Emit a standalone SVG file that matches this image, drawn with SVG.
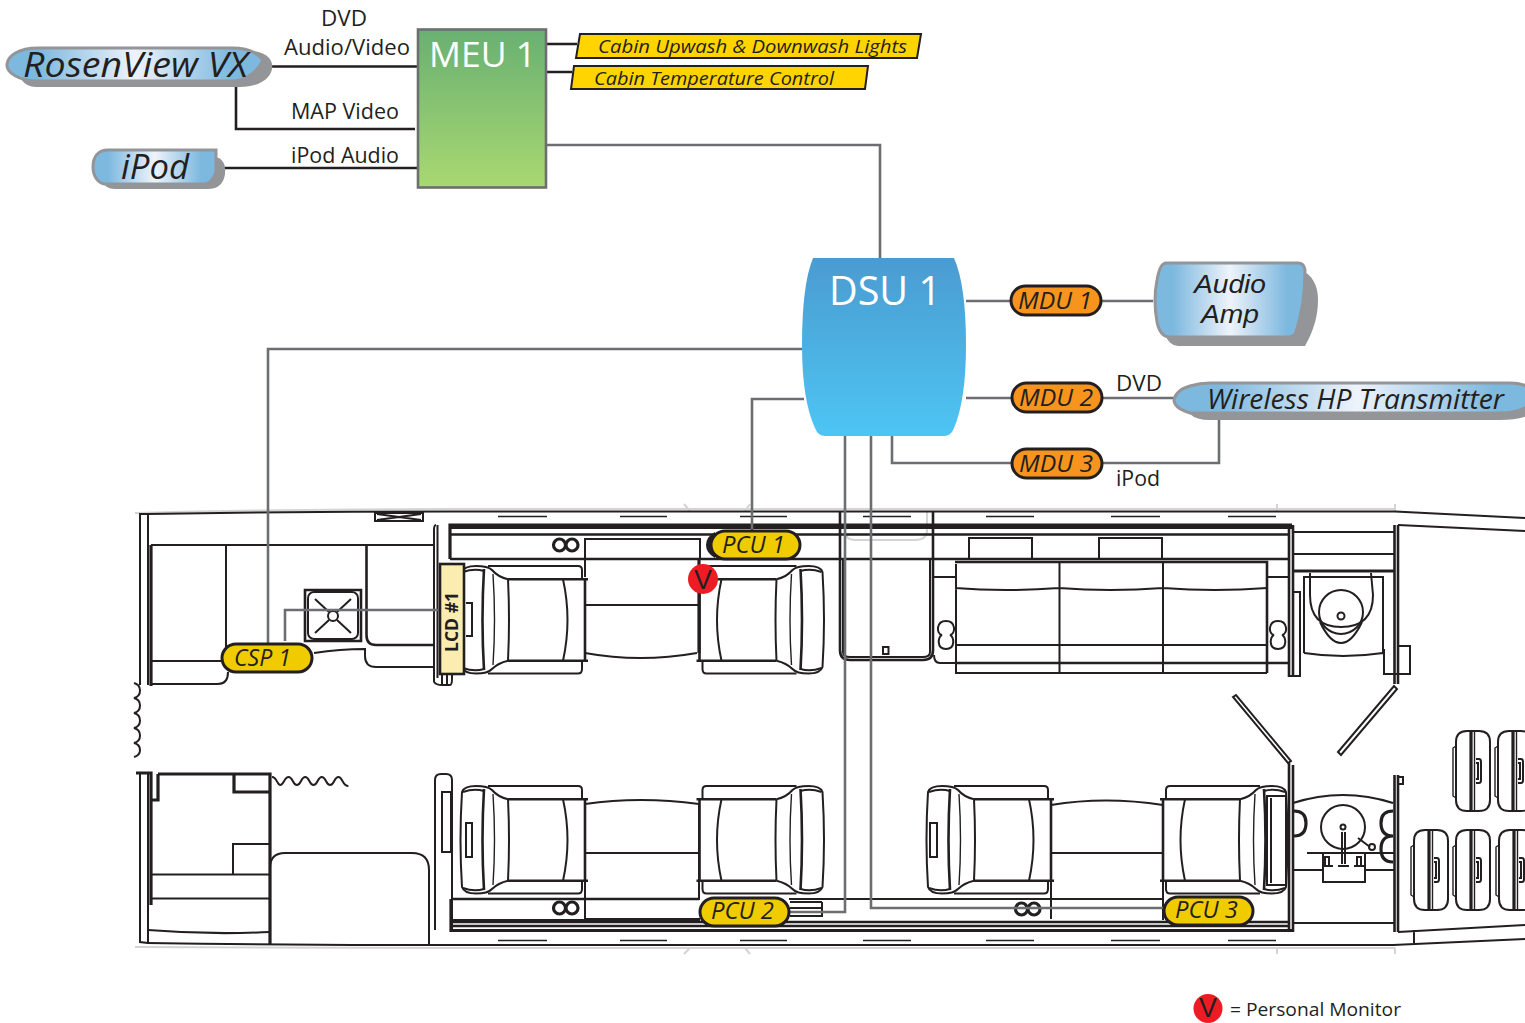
<svg xmlns="http://www.w3.org/2000/svg" xmlns:xlink="http://www.w3.org/1999/xlink" width="1525" height="1023" viewBox="0 0 1525 1023">
<style>
.l{fill:none;stroke:#231f20;stroke-width:2}
.n{fill:none;stroke:#231f20;stroke-width:1.4}
.t{fill:none;stroke:#231f20;stroke-width:3.2}
.s{fill:none;stroke:#d4d4d4;stroke-width:2}
.g{fill:none;stroke:#6d6e71;stroke-width:2.6}
.k{fill:none;stroke:#231f20;stroke-width:2.6}
text{font-family:"Open Sans","Noto Sans","Liberation Sans",sans-serif;fill:#231f20}
.i{font-style:italic}
.lb{font-size:21px}
.sh{fill:#939598}
.fc{stroke:#939598;stroke-width:3;fill:url(#bl)}
.pc{fill:#f0cb00;stroke:#231f20;stroke-width:3}
.md{fill:#f7941d;stroke:#231f20;stroke-width:3}
.yw{fill:#ffd400;stroke:#231f20;stroke-width:2}
.vv{font-family:"Liberation Sans",sans-serif;font-size:27px}
.aa{font-family:"Liberation Sans",sans-serif;font-size:26px}
</style>
<defs>
<linearGradient id="bl" x1="0" x2="1" y1="0" y2="0"><stop offset="0.12" stop-color="#7db8df"/><stop offset="0.5" stop-color="#eef3fa"/><stop offset="0.88" stop-color="#7db8df"/></linearGradient>
<linearGradient id="gr" x1="0" x2="0" y1="0" y2="1"><stop offset="0" stop-color="#69b072"/><stop offset="1" stop-color="#a9d871"/></linearGradient>
<linearGradient id="du" x1="0" x2="0" y1="0" y2="1"><stop offset="0" stop-color="#4b9bd0"/><stop offset="1" stop-color="#4dc5f4"/></linearGradient>
<g id="seat">
<path class="l" d="M28 1H118Q122 1 122 5V13M28 108.500H118Q122 108.500 122 104V96"/>
<path class="k" d="M128 14.300H48M128 95.700H48M125 15V95"/>
<path class="l" d="M48 14.300Q38 12 32 5Q28 1 16 1Q4 1 2 7Q-1 55 2 102Q4 108.500 16 108.500Q28 108.500 32 104Q38 98 48 95.700"/>
<path class="l" d="M48 14.300Q50 55 48 95.700M103 14.300Q112 55 103 95.700"/>
<path class="n" d="M33 9Q36 55 33 100"/>
<path class="k" d="M24 4Q21 55 24 105"/>
<path class="l" d="M3 7Q14 3 24 6M3 103Q14 107 24 104"/>
</g>
<g id="lug">
<path class="l" d="M12 0H24Q35 0 35 11V69Q35 80 24 80H12Q1 80 1 69V11Q1 0 12 0Z"/>
<path class="n" d="M1 15L-2 17V65L1 67"/>
<path class="t" d="M16 0V80"/><path class="n" d="M19.500 0V80"/>
<path class="l" d="M21 28H24Q26 28 26 31V49Q26 52 24 52H21M21 32H23V48H21"/>
</g>
<g id="eight"><path class="l" d="M0 0C-10 0 -10 13 -4 14C-8 15 -10 28 0 28C10 28 8 15 4 14C10 13 10 0 0 0Z"/></g>
</defs>
<rect width="1525" height="1023" fill="#fff"/>

<g id="cabin">
<path class="s" d="M135 513Q300 509 450 509H1395M135 947Q300 948 450 948H1395M690 511L684 504M745 511L750 504M690 948L684 954M745 948L750 954M1277 504V511M1395 504V511M1277 948V954M1395 948V954M845 512V530Q845 540 855 540H915Q927 540 927 530V512"/>
<path class="l" d="M147 514Q300 511.500 450 511.500H1395L1525 518M147 943Q300 945 450 945H1393L1525 939M1398 525L1525 531M1398 932L1525 925M1414 930V943"/>
<rect class="l" x="375" y="513" width="48" height="8"/><path class="l" d="M377 514L421 520M421 514L377 520"/>
<path class="n" d="M498 516.500H547M620 516.500H667M740 516.500H787M863 516.500H911M986 516.500H1034M1111 516.500H1160M1228 516.500H1276M498 940.500H547M620 940.500H667M740 940.500H787M863 940.500H911M986 940.500H1034M1111 940.500H1160M1228 940.500H1276"/>

<path class="l" d="M148 514H140V685M148 514V685M140 774V942L148 943M148 774V943"/>
<path class="t" d="M151 545V686"/>
<path class="l" d="M151 545H434M226 545V660M151 661H222M151 684H218Q228 684 228 672"/>
<path class="k" d="M366.500 545V635Q366.500 645 376 645H434"/>
<path class="l" d="M314 653Q340 649 365 649V656Q365 667 376 667H434"/>
<path class="k" d="M305 590H361V641H305Z"/>
<rect class="l" x="308" y="592" width="50" height="47" rx="6"/>
<circle class="l" cx="333" cy="616" r="5"/>
<path class="l" d="M315 599L329 612M351 599L337 612M315 633L329 620M351 633L337 620"/>
<path class="l" d="M134 683c8 2 8 13 0 15c8 2 8 13 0 15c8 2 8 13 0 15c8 2 8 13 0 15c8 2 8 12 0 14"/>
<path class="l" d="M272 777c5 0 5 8 8.300 8s4 -8 8.300 -8s4 8 8.300 8s4 -8 8.300 -8s4 8 8.300 8s4 -8 8.300 -8s4 8 8.300 8s4 -8 8.300 -8s4 9 10 9"/>

<path class="t" d="M136 773H151V905M158 774H270V945M158 774V800H151M234 774V792H270"/>
<path class="l" d="M233 874V844H270M151 874.500H270M151 898.500H270M148 930Q210 935 270 932M270 868Q270 853 285 853H412Q429 853 429 870V945"/>

<path class="l" d="M434 682V530Q434 525 436 525M437.500 525V678M434 682Q436 685 442 685H450Q452 685 452 678V672M442 674V684M447 674V684"/>
<path class="l" d="M435 930V780Q435 774 441 774H446Q452 774 452 780V930M442 792H451V852H442Z"/>
<path class="t" d="M450 559V525H1292M450 527.500H1292M450 930.500H1292M451 899V932"/>
<path class="k" d="M450 534.500H1290M450 559H1290M451 899H699M451 922H1290M451 926H1290"/>
<path class="l" d="M789 899H1163M451 920H700M790 908H822M790 916H822M822 902V916H790M790 902H822"/>

<use href="#seat" transform="translate(460 565)"/>
<use href="#seat" transform="translate(824.500 565) scale(-1 1)"/>
<use href="#seat" transform="translate(460 785)"/>
<use href="#seat" transform="translate(824.500 785) scale(-1 1)"/>
<use href="#seat" transform="translate(926 785)"/>
<use href="#seat" transform="translate(1288 785) scale(-1 1)"/>
<path class="l" d="M466 823H472V857H466ZM930 823H937V857H930ZM1267 796H1286V885H1267ZM1271 798V883M466 603H472V636H466"/>

<path class="l" d="M585 577V539H700V559M585 605H699M585 653Q640 663 697 653M585 804Q640 796 699 804M585 853H699M585 805V900M699 805V900M585 900V919H700M1051 805Q1105 796 1163 805M1051 853H1163M1051 805V900M1163 805V920M1051 919V899"/>
<path class="t" d="M699 560V653"/>
<g id="hooks" class="t"><circle cx="559.500" cy="545" r="6"/><circle cx="572" cy="545" r="6"/><circle cx="559.500" cy="908" r="6"/><circle cx="572" cy="908" r="6"/><circle cx="1021.500" cy="909" r="6"/><circle cx="1034" cy="909" r="6"/></g>

<path class="k" d="M840 512V650Q840 660 850 660H923Q933 660 933 650V512"/>
<path class="l" d="M843 559V652Q843 657 850 657H923Q930 657 930 652V559"/>
<rect class="l" x="883" y="647" width="5.500" height="7"/>
<path class="l" d="M934 577H955M934 655Q934 663 940 663H955M969 559V538H1032V559M1099 559V538H1162V559"/>
<path class="k" d="M955 562H1267V673"/>
<path class="l" d="M956 564V673H1267M1267 577H1288M1059.500 562V673M1163 562V673M955 645H1267M955 588Q1005 592 1059 588Q1110 592 1163 588Q1215 592 1267 588"/>
<path class="k" d="M955 663H1288"/>
<use href="#eight" transform="translate(946 621)"/>
<use href="#eight" transform="translate(1278 621)"/>

<path class="k" d="M1289 525V677M1293 525V677M1394.500 525V684M1398 525V684"/>
<path class="l" d="M1289 676H1300V592H1293M1293 532H1394M1293 554H1394M1304 653V577H1383V653"/>
<path class="t" d="M1293 571H1394"/>
<path class="l" d="M1310 573V595Q1310 627 1341 627Q1373 627 1373 595L1371 573M1320 622Q1330 643 1341 643Q1352 643 1362 622M1304 653Q1343 659 1383 653M1384 649V674H1410V646H1398"/>
<circle class="l" cx="1341" cy="612" r="22"/><circle class="l" cx="1341" cy="616" r="3.500"/>
<path class="l" d="M1233 697L1236 695L1291 761L1288 763ZM1338 752L1341 755L1397 689L1394 686Z"/>
<path class="k" d="M1289 763V932M1293 765V932M1394.500 775V932M1398 775V932"/><path class="l" d="M1398 777H1403V784H1398"/>
<path class="l" d="M1293 803Q1343 787 1393 803M1293 870H1323M1365 870H1394M1307 853H1394M1323 853V882H1365V853M1293 923H1394M1358 838L1370 847"/>
<circle class="l" cx="1343" cy="827" r="22"/><circle class="l" cx="1343" cy="827" r="2.500"/><circle class="l" cx="1372" cy="847" r="3"/>
<path class="l" d="M1342 832V864M1345 832V864M1322 866H1333M1338 866H1349M1354 866H1365M1325 866V857H1329V866M1357 866V857H1361V866"/>
<path class="t" d="M1294 811Q1306 811 1306 823Q1306 836 1294 836M1393 811Q1381 811 1381 823Q1381 836 1393 836Q1381 836 1381 849Q1381 862 1393 862"/>

<use href="#lug" transform="translate(1455 731)"/>
<use href="#lug" transform="translate(1497 731)"/>
<use href="#lug" transform="translate(1413 830)"/>
<use href="#lug" transform="translate(1455 830)"/>
<use href="#lug" transform="translate(1498 830)"/>
</g>

<g id="connectors">
<path class="g" d="M546 145H880V258M802 349H268V644M285 641V610H440M804 399H752V530M845 436V912H790M871 436V908H1165M966 301H1011M1101 301H1153M966 398H1012M1102 398H1175M892 436V463H1012M1102 463H1219V414"/>
<path class="k" d="M262 66.500H417M236 85V129H415M216 168H417M547 44H577M547 72H572"/>
</g>

<g id="meu"><rect x="418" y="29.500" width="128" height="158" fill="url(#gr)" stroke="#6d6e71" stroke-width="2.600"/><text x="429" y="67" font-size="35" style="fill:#fff" textLength="107" lengthAdjust="spacingAndGlyphs">MEU 1</text></g>

<g id="dsu"><path d="M813 258H954Q966 285 966 345Q966 400 954 428Q951 436 944 436H825Q818 436 815 428Q802 400 802 345Q802 285 813 258Z" fill="url(#du)"/><text x="829" y="305" font-size="41" style="fill:#fff" textLength="112" lengthAdjust="spacingAndGlyphs">DSU 1</text></g>

<g id="rosenview"><path class="sh" d="M36 87H240C264 87 274 74 272 64C270 54 258 50 240 50H20C12 64 18 87 36 87Z"/><path class="fc" d="M38 48H232C252 48 260 56 263 60C258 72 245 81 232 81H38C18 81 6 72 7 64C8 56 18 48 38 48Z"/><text class="i" x="23" y="77" font-size="35" textLength="225" lengthAdjust="spacingAndGlyphs">RosenView VX</text></g>

<g id="ipod"><path class="sh" d="M115 189H208C222 189 226 178 225 168C224 158 216 156 208 156H100C96 176 102 189 115 189Z"/><path class="fc" d="M108 150H216V172Q212 184 204 184H106C98 184 93 176 93 167C93 157 98 150 108 150Z"/><text class="i" x="121" y="179" font-size="35" textLength="68" lengthAdjust="spacingAndGlyphs">iPod</text></g>

<g id="audio-amp"><path class="sh" d="M1178 346H1305C1314 330 1318 315 1318 300C1318 285 1312 274 1300 270H1165V335Q1170 346 1178 346Z"/><path class="fc" d="M1166 263H1298Q1304 263 1305 270Q1305 305 1296 332Q1294 337 1288 337H1170Q1160 337 1157 322Q1153 300 1157 280Q1160 263 1166 263Z"/><text class="i aa" x="1230" y="293" text-anchor="middle" textLength="72" lengthAdjust="spacingAndGlyphs">Audio</text><text class="i aa" x="1230" y="323" text-anchor="middle" textLength="58" lengthAdjust="spacingAndGlyphs">Amp</text></g>

<g id="wireless"><path class="sh" d="M1190 414Q1196 420 1210 420H1500Q1525 420 1540 410V395H1186Z"/><path class="fc" d="M1210 383H1510Q1530 383 1540 397Q1525 413 1500 413H1190Q1174 408 1174 400Q1176 390 1190 386Q1200 383 1210 383Z"/><text class="i" x="1207" y="409" font-size="27" textLength="297" lengthAdjust="spacingAndGlyphs">Wireless HP Transmitter</text></g>

<g id="cabin-lights"><path class="yw" d="M580 34H921L917 58H576Z"/><text class="i" x="598" y="53" font-size="19" textLength="309" lengthAdjust="spacingAndGlyphs">Cabin Upwash &amp; Downwash Lights</text></g>
<g id="cabin-temp"><path class="yw" d="M574 66H868L865 89H571Z"/><text class="i" x="594" y="85" font-size="19" textLength="240" lengthAdjust="spacingAndGlyphs">Cabin Temperature Control</text></g>

<g id="mdu1"><rect class="md" x="1011" y="286" width="90" height="29" rx="14.500"/><text class="i" x="1018" y="309" font-size="23" textLength="74" lengthAdjust="spacingAndGlyphs">MDU 1</text></g>
<g id="mdu2"><rect class="md" x="1012" y="383" width="90" height="29" rx="14.500"/><text class="i" x="1019" y="406" font-size="23" textLength="74" lengthAdjust="spacingAndGlyphs">MDU 2</text></g>
<g id="mdu3"><rect class="md" x="1012" y="449" width="90" height="29" rx="14.500"/><text class="i" x="1019" y="472" font-size="23" textLength="74" lengthAdjust="spacingAndGlyphs">MDU 3</text></g>

<g id="pcu1"><path d="M715 532Q706 537 706 545Q706 553 715 558Z" fill="#231f20"/><rect class="pc" x="711" y="531" width="89" height="28" rx="14"/><text class="i" x="722" y="553" font-size="23" textLength="63" lengthAdjust="spacingAndGlyphs">PCU 1</text></g>
<g id="pcu2"><rect class="pc" x="700" y="898" width="89" height="28" rx="14"/><text class="i" x="711" y="919" font-size="23" textLength="63" lengthAdjust="spacingAndGlyphs">PCU 2</text></g>
<g id="pcu3"><rect class="pc" x="1164" y="897" width="89" height="28" rx="14"/><text class="i" x="1175" y="918" font-size="23" textLength="63" lengthAdjust="spacingAndGlyphs">PCU 3</text></g>
<g id="csp1"><rect class="pc" x="222" y="644" width="90" height="28" rx="14"/><text class="i" x="234" y="666" font-size="23" textLength="57" lengthAdjust="spacingAndGlyphs">CSP 1</text></g>

<g id="lcd1"><rect x="440" y="564" width="24" height="110" fill="#fbedb0" stroke="#231f20" stroke-width="2.600"/><text transform="translate(458 652) rotate(-90)" font-size="18" font-weight="700" textLength="60" lengthAdjust="spacingAndGlyphs">LCD #1</text></g>

<g id="monitor"><circle cx="703" cy="579" r="15" fill="#ed1c24"/><text class="vv" x="703" y="589" text-anchor="middle">V</text></g>
<g id="legend"><circle cx="1208" cy="1008.500" r="14.500" fill="#ed1c24"/><text class="vv" x="1208" y="1017" text-anchor="middle">V</text><text x="1230" y="1016" font-size="19" textLength="171" lengthAdjust="spacingAndGlyphs">= Personal Monitor</text></g>

<g id="labels">
<text class="lb" x="321" y="26" textLength="46" lengthAdjust="spacingAndGlyphs">DVD</text>
<text class="lb" x="284" y="55" textLength="126" lengthAdjust="spacingAndGlyphs">Audio/Video</text>
<text class="lb" x="291" y="119" textLength="108" lengthAdjust="spacingAndGlyphs">MAP Video</text>
<text class="lb" x="291" y="163" textLength="108" lengthAdjust="spacingAndGlyphs">iPod Audio</text>
<text class="lb" x="1116" y="391" textLength="46" lengthAdjust="spacingAndGlyphs">DVD</text>
<text class="lb" x="1116" y="486" textLength="44" lengthAdjust="spacingAndGlyphs">iPod</text>
</g>
</svg>
